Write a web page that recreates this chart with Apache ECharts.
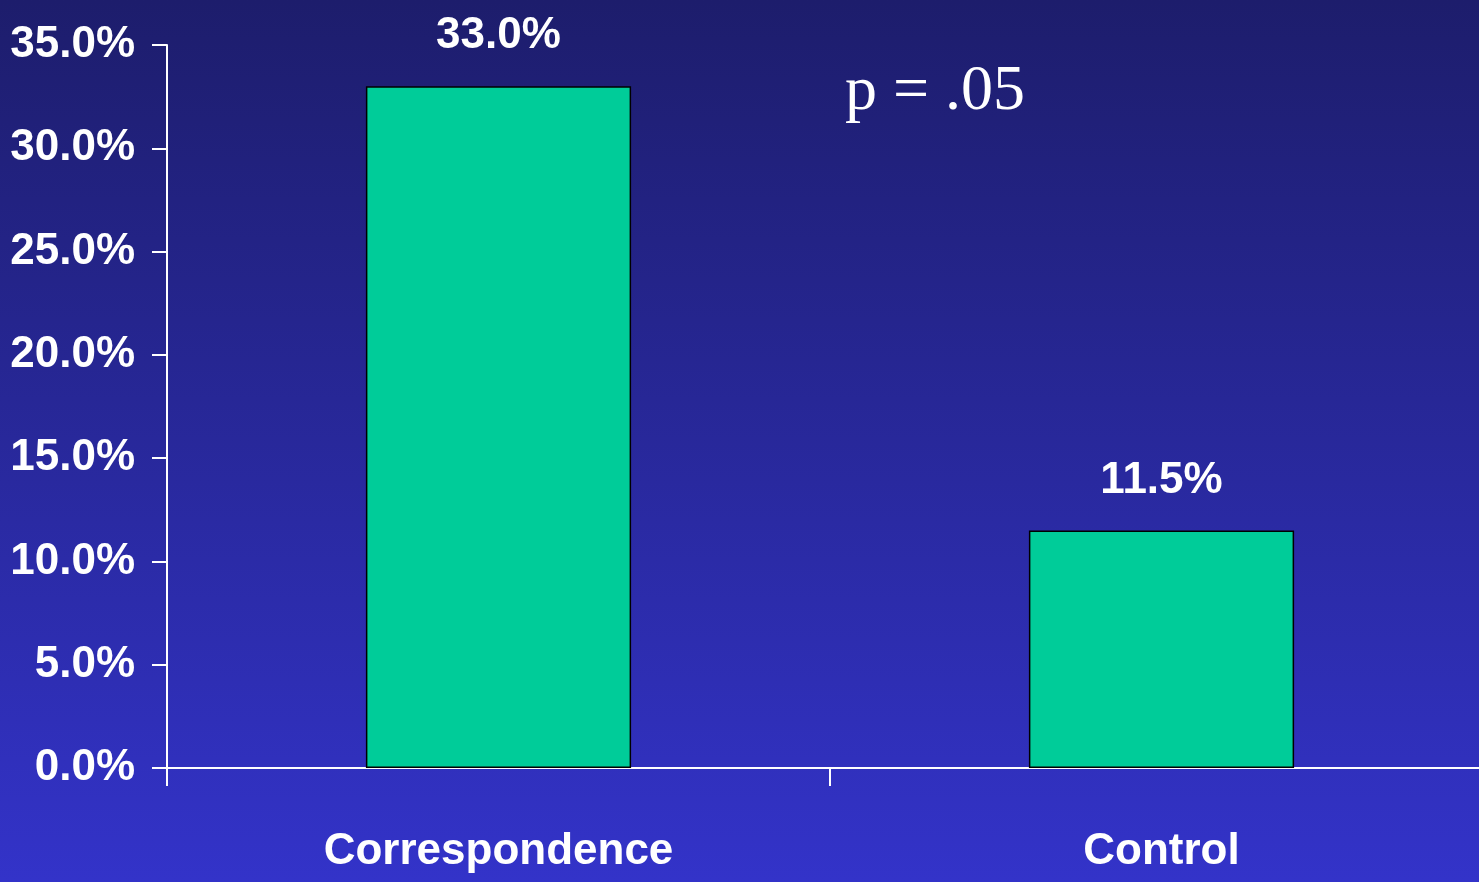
<!DOCTYPE html>
<html>
<head>
<meta charset="utf-8">
<script src="https://cdn.jsdelivr.net/npm/echarts@6/dist/echarts.min.js"></script>
<style>
html,body{margin:0;padding:0;width:1479px;height:882px;overflow:hidden;}
#chart{width:1479px;height:882px;}
</style>
</head>
<body>
<div id="chart"></div>
<script>
const categories = ['Correspondence', 'Control'];
const values = [33.0, 11.5];
const annotation = 'p = .05';
const yMin = 0, yMax = 35, yStep = 5;

const FONT = "'Liberation Sans Narrow', 'Arial Narrow', 'Liberation Sans', Arial, sans-serif";
const chart = echarts.init(document.getElementById('chart'));
chart.setOption({
  animation: false,
  backgroundColor: new echarts.graphic.LinearGradient(0, 0, 0, 1, [
    {offset: 0, color: '#1d1d6c'},
    {offset: 1, color: '#3333c9'}
  ]),
  title: {
    text: annotation,
    left: 840, top: 55,
    textStyle: {color: '#ffffff', fontFamily: "'Liberation Serif', 'Times New Roman', serif", fontWeight: 'normal', fontSize: 64}
  },
  grid: {left: 167, top: 45, bottom: 114, right: -14, containLabel: false, outerBoundsMode: 'none'},
  xAxis: {
    type: 'category',
    data: categories,
    axisLine: {lineStyle: {color: '#ffffff', width: 2}},
    axisTick: {show: true, length: 18, lineStyle: {color: '#ffffff', width: 2}},
    axisLabel: {color: '#ffffff', fontFamily: FONT, fontWeight: 'bold', fontSize: 44, margin: 62}
  },
  yAxis: {
    type: 'value',
    min: yMin, max: yMax, interval: yStep,
    splitLine: {show: false},
    axisLine: {show: true, lineStyle: {color: '#ffffff', width: 2}},
    axisTick: {show: true, length: 15, lineStyle: {color: '#ffffff', width: 2}},
    axisLabel: {color: '#ffffff', fontFamily: FONT, fontWeight: 'bold', fontSize: 44, margin: 32,
      formatter: v => v.toFixed(1) + '%'}
  },
  series: [{
    type: 'bar',
    data: values,
    barWidth: '40%',
    itemStyle: {color: '#00cc99', borderColor: '#000000', borderWidth: 1.5},
    label: {show: true, position: 'top', distance: 28, color: '#ffffff', fontFamily: FONT, fontWeight: 'bold', fontSize: 44,
      formatter: p => p.value.toFixed(1) + '%'}
  }]
});
</script>
</body>
</html>
